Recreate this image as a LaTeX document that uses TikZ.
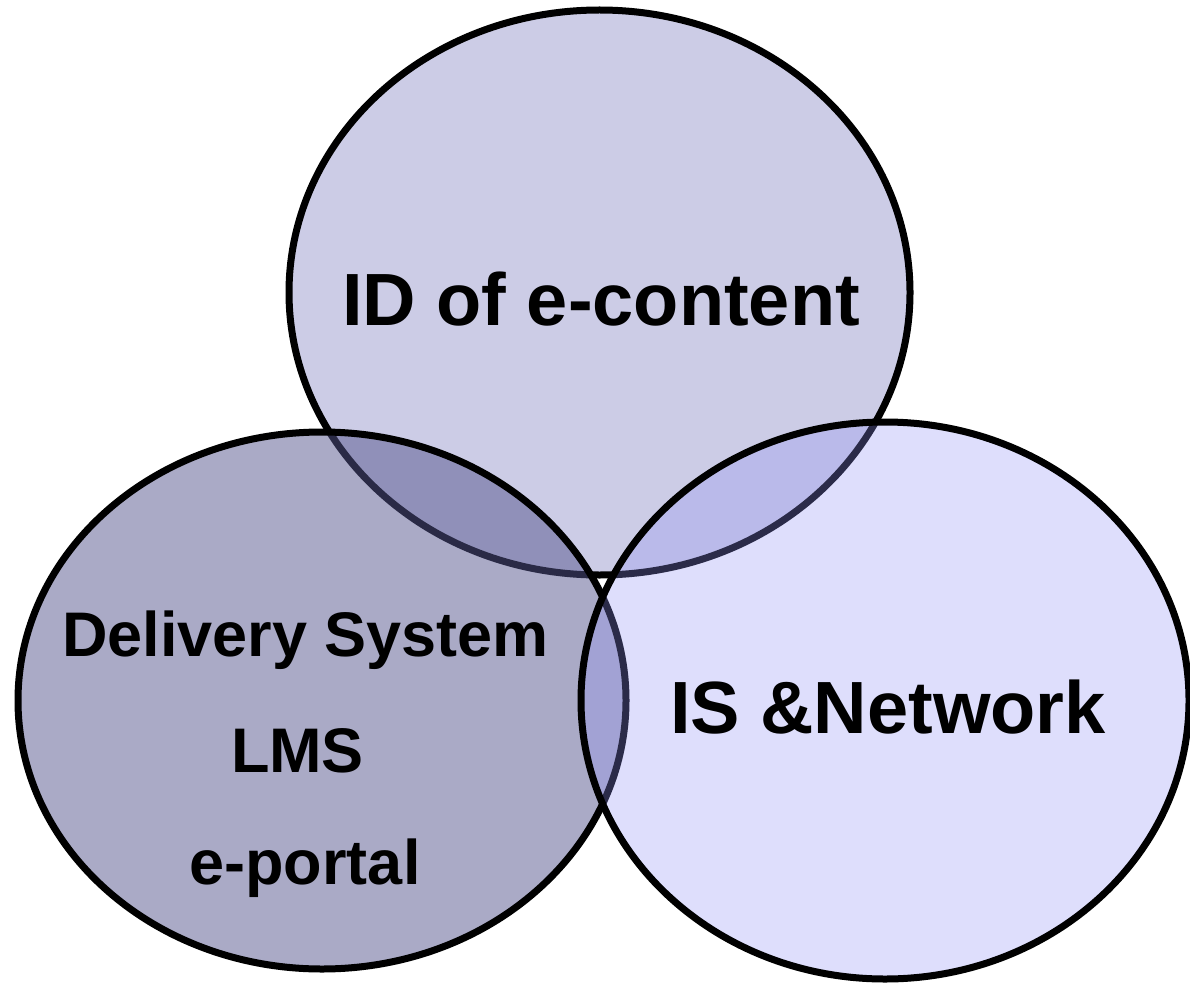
\documentclass[tikz,border=0pt]{standalone}
\usepackage{fontspec}
\setmainfont{Liberation Sans}
\definecolor{topfill}{RGB}{204,204,230}
\definecolor{leftfill}{RGB}{85,85,141}
\definecolor{rightfill}{RGB}{145,145,245}
\tikzset{
  ring/.style={draw=black, line width=7pt},
  biglabel/.style={font=\fontsize{74}{80}\selectfont\bfseries, anchor=base, inner sep=0pt},
  smalllabel/.style={font=\fontsize{63}{70}\selectfont\bfseries, anchor=base, inner sep=0pt}
}
\begin{document}
\begin{tikzpicture}[x=1pt,y=-1pt]
  \useasboundingbox (0,0) rectangle (1190,984);
  \begin{scope}
    \clip (0,0) rectangle (1190,984);
    % instructional design circle (opaque, drawn first)
    \path[ring, fill=topfill] (599.5,292.5) ellipse [x radius=310.5, y radius=282.5];
    % delivery system circle, half transparent over the first
    \path[ring, fill=leftfill, fill opacity=0.5] (322,700.5) ellipse [x radius=304, y radius=268.5];
    % network circle, lightly tinted on top
    \path[ring, fill=rightfill, fill opacity=0.3] (885,700.5) ellipse [x radius=304, y radius=278.5];
  \end{scope}
  \node[biglabel] (idc) at (601,325) {ID of e-content};
  \node[smalllabel] (dsys) at (305.5,656) {Delivery System};
  \node[smalllabel] (lms) at (297.5,772) {LMS};
  \node[smalllabel] (port) at (305,884) {e-portal};
  \node[biglabel] (isnet) at (888,733) {IS \&Network};
\end{tikzpicture}
\end{document}
